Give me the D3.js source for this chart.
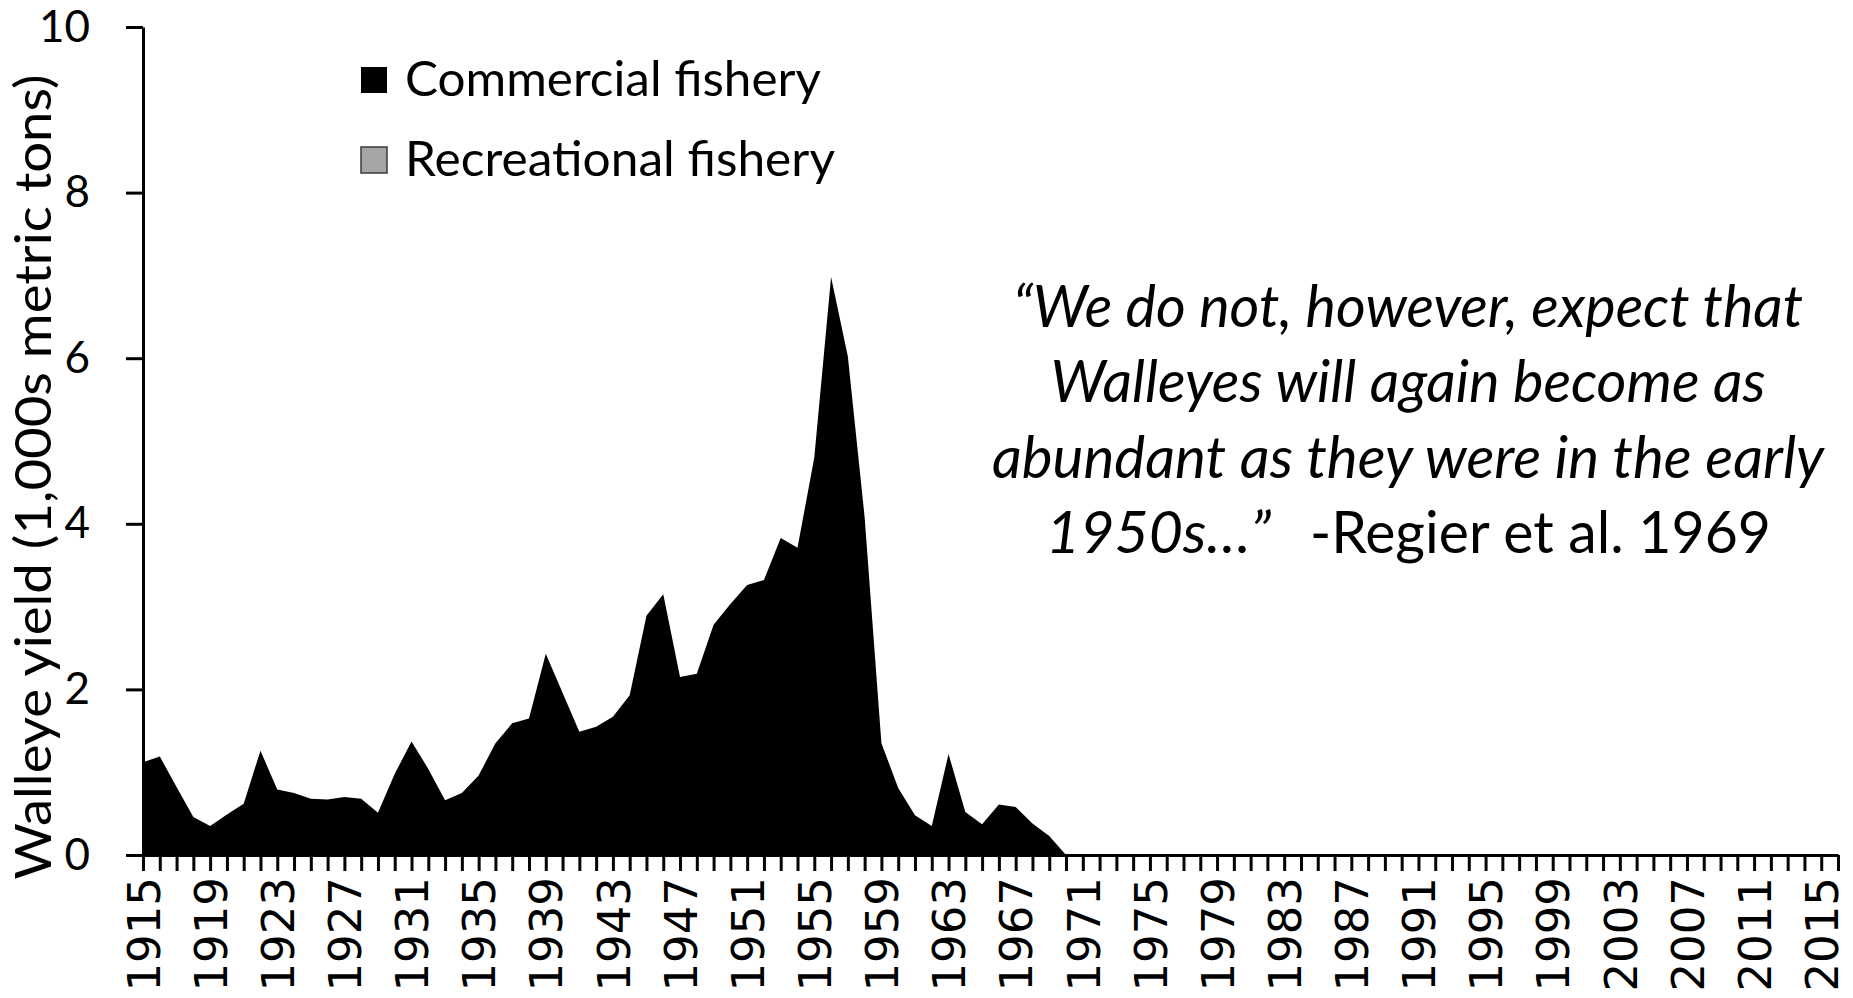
<!DOCTYPE html>
<html>
<head>
<meta charset="utf-8">
<script src="https://cdn.jsdelivr.net/npm/d3@7"></script>
<style>
    body { margin: 0; background: #ffffff; }
    svg { display: block; }
    .axis path, .axis line { stroke: #000; stroke-width: 3; }
    .axis text { fill: #000; }
</style>
</head>
<body>
<div id="chart"></div>
<script>
// categories: one per year, the axis runs 1915 - 2016
const first_year = 1915
const last_year = 2016
const years = d3.range(first_year, last_year + 1)

// labelled years on the x axis
const tick_years = [1915, 1919, 1923, 1927, 1931, 1935, 1939, 1943, 1947, 1951, 1955, 1959, 1963,
    1967, 1971, 1975, 1979, 1983, 1987, 1991, 1995, 1999, 2003, 2007, 2011, 2015]
const y_ticks = [0, 2, 4, 6, 8, 10]

// commercial walleye yield (1,000s metric tons), 1915 - 1970
const commercial_years = d3.range(1915, 1971)
const commercial_values = [
    1.12, 1.19, 0.82, 0.46, 0.35, 0.49, 0.62, 1.26, 0.79, 0.75,
    0.68, 0.67, 0.70, 0.68, 0.51, 0.98, 1.37, 1.04, 0.66, 0.75,
    0.96, 1.35, 1.59, 1.65, 2.43, 1.96, 1.49, 1.55, 1.67, 1.93,
    2.89, 3.15, 2.15, 2.19, 2.78, 3.03, 3.26, 3.32, 3.83, 3.71,
    4.80, 6.98, 6.02, 4.08, 1.35, 0.81, 0.48, 0.35, 1.22, 0.52,
    0.37, 0.61, 0.58, 0.38, 0.23, 0.00
]
// recreational series has no visible values in the figure (legend only)
const recreational_values = []

const legend_labels = ["Commercial fishery", "Recreational fishery"]
const legend_colors = ["#000000", "#a6a6a6"]

const quote_lines = [
    "\u201CWe do not, however, expect that",
    "Walleyes will again become as",
    "abundant as they were in the early"
]
const quote_last = "1950s\u2026\u201D"
const quote_source = "-Regier et al. 1969"

const width = 1853, height = 998

let svg = d3.select("#chart")
    .append("svg")
    .attr("width", width)
    .attr("height", height)

const x = d3.scalePoint()
    .domain(years)
    .range([143, 1838])
const y = d3.scaleLinear()
    .domain([0, 10])
    .range([855, 27])

const commercial = commercial_years.map((yr, i) => ({year: yr, value: commercial_values[i]}))

// area
svg.append("path")
    .datum(commercial)
    .attr("fill", legend_colors[0])
    .attr("d", d3.area()
        .x(d => x(d.year))
        .y0(y(0))
        .y1(d => y(d.value))
    )

// x axis
let x_axis = svg.append("g")
    .attr("class", "axis")
    .attr("transform", "translate(0," + y(0) + ")")
    .call(d3.axisBottom(x)
        .tickSizeInner(16)
        .tickSizeOuter(0)
        .tickFormat(d => tick_years.includes(d) ? d : "")
    )
x_axis.selectAll("text")
    .attr("transform", "rotate(-90)")
    .attr("text-anchor", "end")
    .attr("x", -22)
    .attr("y", 0)
    .attr("dy", "0.36em")
    .style("font-family", "'DejaVu Sans', sans-serif")
    .style("font-size", "45px")

// y axis
let y_axis = svg.append("g")
    .attr("class", "axis")
    .attr("transform", "translate(" + x(first_year) + ",0)")
    .call(d3.axisLeft(y)
        .tickValues(y_ticks)
        .tickSizeInner(17)
        .tickSizeOuter(0)
        .tickPadding(36)
    )
y_axis.selectAll("text")
    .style("font-family", "Lato, sans-serif")
    .style("font-size", "44px")

// axis title
svg.append("text")
    .attr("transform", "rotate(-90)")
    .attr("x", -477)
    .attr("y", 51)
    .attr("text-anchor", "middle")
    .attr("textLength", 805)
    .attr("lengthAdjust", "spacingAndGlyphs")
    .style("font-family", "Lato, sans-serif")
    .style("font-size", "51px")
    .text("Walleye yield (1,000s metric tons)")

// legend
const legend_widths = [416, 430]
legend_labels.forEach((label, i) => {
    let row = svg.append("g")
        .attr("transform", "translate(361," + (67 + i * 80) + ")")
    row.append("rect")
        .attr("width", 26)
        .attr("height", 26)
        .attr("fill", legend_colors[i])
        .attr("stroke", i === 0 ? "none" : "#3a3a3a")
        .attr("stroke-width", 1.5)
    row.append("text")
        .attr("x", 44)
        .attr("y", 29)
        .attr("textLength", legend_widths[i])
        .attr("lengthAdjust", "spacingAndGlyphs")
        .style("font-family", "Lato, sans-serif")
        .style("font-size", "48px")
        .text(label)
})

// quote
const quote_widths = [790, 715, 832]
const quote_baselines = [327, 402, 478, 553]
quote_lines.forEach((line, i) => {
    svg.append("text")
        .attr("x", 1408)
        .attr("y", quote_baselines[i])
        .attr("text-anchor", "middle")
        .attr("textLength", quote_widths[i])
        .attr("lengthAdjust", "spacingAndGlyphs")
        .style("font-family", "Lato, sans-serif")
        .style("font-style", "italic")
        .style("font-size", "58px")
        .text(line)
})
svg.append("text")
    .attr("x", 1046)
    .attr("y", quote_baselines[3])
    .attr("textLength", 225)
    .attr("lengthAdjust", "spacingAndGlyphs")
    .style("font-family", "Lato, sans-serif")
    .style("font-style", "italic")
    .style("font-size", "58px")
    .text(quote_last)
svg.append("text")
    .attr("x", 1310)
    .attr("y", quote_baselines[3])
    .attr("textLength", 461)
    .attr("lengthAdjust", "spacingAndGlyphs")
    .style("font-family", "Lato, sans-serif")
    .style("font-size", "58px")
    .text(quote_source)
</script>
</body>
</html>
